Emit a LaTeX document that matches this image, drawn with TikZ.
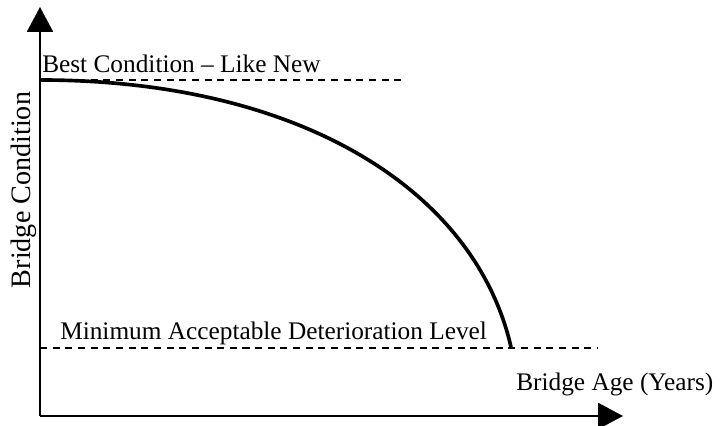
\documentclass[tikz,border=0pt]{standalone}
\usepackage{fontspec}
\setmainfont{Liberation Serif}
\usetikzlibrary{arrows.meta,positioning}

\begin{document}
\begin{tikzpicture}[x=0.025cm, y=-0.025cm,
    axis/.style={line width=1.3pt, -{Triangle[length=0.62cm, width=0.65cm]}},
    level/.style={line width=0.9pt, dash pattern=on 5pt off 4pt},
    lbl/.style={font=\fontsize{18}{21}\selectfont, inner sep=0pt}]
    \useasboundingbox (0,0) rectangle (726,426);

    % axes
    \coordinate (origin) at (40,416);
    \coordinate (ytop) at (40,7);
    \coordinate (xend) at (623,416);
    \draw[axis] (origin) -- (ytop);
    \draw[axis] (origin) -- (xend);

    % condition levels
    \coordinate (best) at (40,80);
    \coordinate (bestend) at (405,80);
    \coordinate (minlvl) at (40,348);
    \coordinate (minend) at (598,348);
    \coordinate (fail) at (511,347);
    \draw[level] (best) -- (bestend);
    \draw[level] (minlvl) -- (minend);

    % deterioration curve
    \draw[line width=2.6pt] (best) .. controls (300,80) and (475,190) .. (fail);

    \node[lbl, anchor=base west] (besttext) at (42,73) {Best Condition -- Like New};
    \node[lbl, anchor=base west] (mintext) at (60,340) {Minimum Acceptable Deterioration Level};
    \node[lbl, anchor=base west] (agetext) at (516,391) {Bridge Age (Years)};
    \node[lbl, font=\fontsize{20}{23}\selectfont, anchor=base, rotate=90] (condtext) at (31,190) {Bridge Condition};
\end{tikzpicture}
\end{document}
